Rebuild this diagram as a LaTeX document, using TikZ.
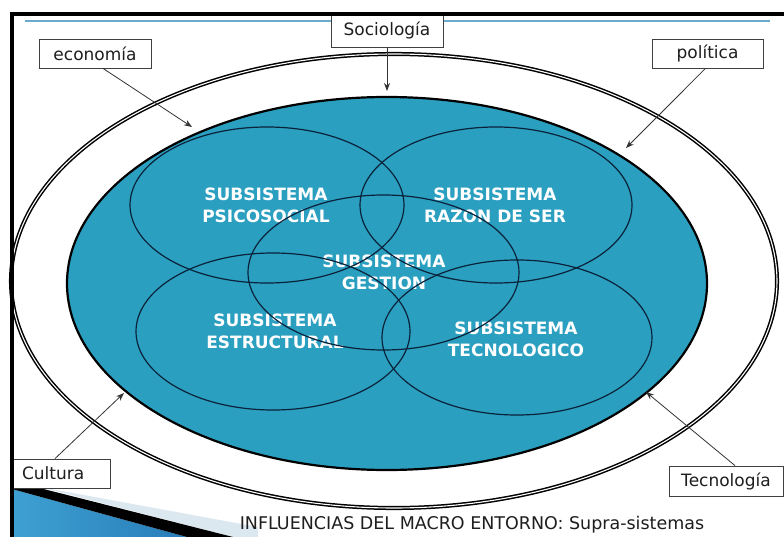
\documentclass[tikz,border=0pt]{standalone}
\usepackage{fontspec}
\setmainfont{DejaVu Sans}
\usetikzlibrary{arrows.meta,shapes.geometric}
\definecolor{tealfill}{RGB}{43,159,192}
\definecolor{ringline}{RGB}{10,34,58}
\definecolor{topblue}{RGB}{106,170,206}
\definecolor{labtext}{RGB}{30,30,30}
\definecolor{decoA}{RGB}{62,160,210}
\definecolor{decoB}{RGB}{40,125,185}
\definecolor{decoLight}{RGB}{220,232,240}
\begin{document}
\begin{tikzpicture}[x=1pt,y=-1pt,
  labelbox/.style={draw=black!75, line width=0.8pt, fill=white, inner sep=0pt, font=\fontsize{17}{20}\selectfont, text=labtext},
  subtext/.style={align=center, text=white, font=\fontsize{17}{22}\selectfont\bfseries, inner sep=0pt},
  subring/.style={ellipse, draw=ringline, line width=1.2pt, inner sep=0pt},
  ptr/.style={draw=black!80, line width=0.8pt, -{Stealth[length=8pt,width=6pt]}}
]
\useasboundingbox (0,0) rectangle (784,537);
\fill[white] (0,0) rectangle (784,537);

% top thin blue line
\draw[topblue, line width=2pt] (25,21.5) -- (770,21.5);

% outer triple ring
\node[ellipse, draw=black, line width=1.5pt, double=white, double distance=1.1pt,
      minimum width=766pt, minimum height=454pt, inner sep=0pt] (outer) at (394,281) {};

% inner filled ellipse
\node[ellipse, draw=black, fill=tealfill, line width=2.2pt,
      minimum width=640pt, minimum height=373pt, inner sep=0pt] (inner) at (387,283.5) {};

% subsystem texts
\node[subtext] (tpsi) at (266,205.5) {SUBSISTEMA\\PSICOSOCIAL};
\node[subtext] (traz) at (495,205.5) {SUBSISTEMA\\RAZON DE SER};
\node[subtext] (tges) at (384,272) {SUBSISTEMA\\GESTION};
\node[subtext] (test) at (275,331) {SUBSISTEMA\\ESTRUCTURAL};
\node[subtext] (ttec) at (516,339.5) {SUBSISTEMA\\TECNOLOGICO};

% subsystem ellipses
\node[subring, minimum width=274pt, minimum height=156pt] (epsi) at (267,205) {};
\node[subring, minimum width=272pt, minimum height=156pt] (eraz) at (496,205) {};
\node[subring, minimum width=271pt, minimum height=155pt] (eges) at (383.5,272.5) {};
\node[subring, minimum width=274pt, minimum height=157pt] (eest) at (273,331.5) {};
\node[subring, minimum width=270pt, minimum height=155pt] (etec) at (517,337.5) {};

% bottom-left decoration
\shade[left color=decoA, right color=decoB] (12,489) -- (187,537) -- (12,537) -- cycle;
\fill[decoLight] (40,487) -- (258,527) -- (258,537) -- (233,537) -- cycle;
\fill[black] (12,481) -- (233,537) -- (187,537) -- (12,489) -- cycle;

% label boxes
\node[labelbox, minimum width=112pt, minimum height=29pt] (eco) at (95,53.5) {economía};
\node[labelbox, minimum width=112pt, minimum height=33pt] (soc) at (387,30.5) {Sociología};
\node[labelbox, minimum width=111pt, minimum height=29pt] (pol) at (707.5,53.5) {política};
\node[labelbox, minimum height=29pt, text width=78pt, inner xsep=10pt, align=left] (cul) at (61,473.5) {Cultura};
\node[labelbox, minimum width=114pt, minimum height=30pt] (tec) at (726,481) {Tecnología};

% arrow tips
\coordinate (ecoTip) at (192,127);
\coordinate (socTip) at (387,91);
\coordinate (polTip) at (626,148);
\coordinate (culTip) at (124,393);
\coordinate (tecTip) at (646,392);

\draw[ptr] ([xshift=8pt]eco.south) -- (ecoTip);
\draw[ptr] (soc.south) -- (socTip);
\draw[ptr] ([xshift=-2pt]pol.south) -- (polTip);
\draw[ptr] ([xshift=-6pt]cul.north) -- (culTip);
\draw[ptr] ([xshift=9pt]tec.north) -- (tecTip);

% frame
\draw[black, line width=4pt] (10,14) -- (784,14);
\draw[black, line width=4pt] (12,12) -- (12,537);

% caption
\node[anchor=base, inner sep=0pt, text=labtext, font=\fontsize{17.5}{20}\selectfont] (cap) at (472,529.5) {INFLUENCIAS DEL MACRO ENTORNO: Supra-sistemas};
\end{tikzpicture}
\end{document}
